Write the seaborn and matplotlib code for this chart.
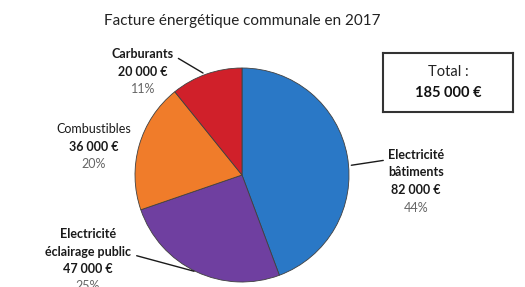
import numpy as np
import seaborn as sns
import matplotlib.pyplot as plt

# data
postes = ['Electricité\nbâtiments', 'Electricité\néclairage public', 'Combustibles', 'Carburants']
montants = [82000, 47000, 36000, 20000]
pourcents = [44, 25, 20, 11]
couleurs = ['#2a78c6', '#6f3fa0', '#f07c2a', '#d0202a']
total = 185000

sns.set_theme(style='white')
plt.rcParams['font.family'] = ['Lato', 'DejaVu Sans']

W, H = 525, 287
fig = plt.figure(figsize=(W / 100, H / 100), dpi=100)
cx, cy, r = 242, 175, 107
ax = fig.add_axes([(cx - r) / W, (H - cy - r) / H, 2 * r / W, 2 * r / H])

wedges, _ = ax.pie(montants, colors=couleurs, startangle=90, counterclock=False,
                   radius=1, wedgeprops=dict(edgecolor='#404040', linewidth=0.6))
ax.set_xlim(-1, 1)
ax.set_ylim(-1, 1)
ax.set_aspect('equal')
ax.axis('off')

def px(x, y):
    # pixel position in the picture -> pie data coords
    return ((x - cx) / r, (cy - y) / r)

def fmt(v):
    return '{:,}'.format(v).replace(',', ' ') + ' €'

# label positions (pixel, centre of first line)
label_pos = [(416, 155), (88, 234), (94, 129), (143, 54)]
step = 17.5

for i, (w, nom) in enumerate(zip(wedges, postes)):
    x, y = label_pos[i]
    k = 0
    for ln in nom.split('\n'):
        ax.text(*px(x, y + k * step), ln, ha='center', va='center', fontsize=9,
                color='#1a1a1a', fontweight='bold' if i != 2 else 'normal')
        k += 1
    ax.text(*px(x, y + k * step), fmt(montants[i]), ha='center', va='center',
            fontsize=9, color='#1a1a1a', fontweight='bold')
    ax.text(*px(x, y + (k + 1) * step), '{}%'.format(pourcents[i]), ha='center',
            va='center', fontsize=9, color='#666666')

# leader lines from label to wedge edge
def edge(angle_deg, rr=1.0):
    a = np.deg2rad(angle_deg)
    return (rr * np.cos(a), rr * np.sin(a))

line = dict(arrowstyle='-', color='#1a1a1a', lw=1)
ax.annotate('', xy=edge(5), xytext=px(386, 160), annotation_clip=False,
            arrowprops=line)
ax.annotate('', xy=edge(-115), xytext=px(134, 255), annotation_clip=False,
            arrowprops=line)
ax.annotate('', xy=edge(110), xytext=px(176, 57), annotation_clip=False,
            arrowprops=line)

fig.text(242 / W, 1 - 21 / H, 'Facture énergétique communale en 2017',
         ha='center', va='center', fontsize=11, color='#222222')

box_ax = fig.add_axes([383 / W, 1 - 112 / H, 130 / W, 59 / H])
box_ax.set_xticks([])
box_ax.set_yticks([])
for s in box_ax.spines.values():
    s.set_color('#333333')
    s.set_linewidth(1.5)
box_ax.text(0.5, 0.67, 'Total :', ha='center', va='center', fontsize=10.5,
            color='#222222', transform=box_ax.transAxes)
box_ax.text(0.5, 0.33, fmt(total), ha='center', va='center', fontsize=10.5,
            fontweight='bold', color='#111111', transform=box_ax.transAxes)

fig.savefig('out.png', dpi=100)
